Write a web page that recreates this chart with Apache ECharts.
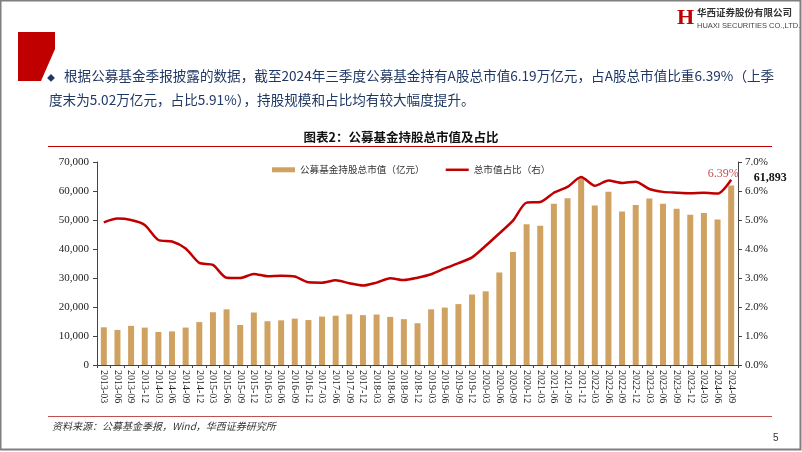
<!DOCTYPE html>
<html>
<head>
<meta charset="utf-8">
<script src="https://cdn.jsdelivr.net/npm/echarts@6/dist/echarts.min.js"></script>
<style>
html,body{margin:0;padding:0;background:#fff;}
#c{width:802px;height:452px;}
</style>
</head>
<body>
<div id="c"></div>
<script>
const categories = ['2013-03','2013-06','2013-09','2013-12','2014-03','2014-06','2014-09','2014-12','2015-03','2015-06','2015-09','2015-12','2016-03','2016-06','2016-09','2016-12','2017-03','2017-06','2017-09','2017-12','2018-03','2018-06','2018-09','2018-12','2019-03','2019-06','2019-09','2019-12','2020-03','2020-06','2020-09','2020-12','2021-03','2021-06','2021-09','2021-12','2022-03','2022-06','2022-09','2022-12','2023-03','2023-06','2023-09','2023-12','2024-03','2024-06','2024-09'];
const holdingValue = [13000,12100,13500,12900,11400,11600,12900,14800,18200,19200,13800,18100,15100,15400,16000,15500,16700,17000,17500,17200,17400,16600,15800,14400,19200,19800,21000,24300,25400,31900,39000,48500,48000,55600,57500,64500,55000,59700,52900,55200,57400,55600,53900,51800,52400,50200,61893];
const marketShare = [4.92,5.05,5.00,4.83,4.31,4.26,4.02,3.52,3.45,3.01,3.00,3.14,3.06,3.08,3.05,2.85,2.84,2.92,2.82,2.74,2.84,2.99,2.93,3.01,3.13,3.33,3.51,3.71,4.11,4.54,4.98,5.60,5.62,5.94,6.14,6.48,6.18,6.36,6.28,6.32,6.07,5.97,5.94,5.92,5.94,5.91,6.39];
const barName = '公募基金持股总市值（亿元）';
const lineName = '总市值占比（右）';

const serif = '"Liberation Serif","Times New Roman",serif';
const cjk = '"Noto Sans CJK SC","Noto Sans",sans-serif';
const last = holdingValue.length - 1;

const barData = holdingValue.map((v, i) => i === last ? {
  value: v,
  label: {show: true, position: 'top', offset: [39, 3], formatter: p => p.value.toLocaleString('en-US'),
          fontFamily: serif, fontWeight: 'bold', fontSize: 12, color: '#111'}
} : v);

const chart = echarts.init(document.getElementById('c'), null, {renderer: 'canvas'});
chart.setOption({
  animation: false,
  backgroundColor: '#fff',
  grid: {left: 97, right: 64, top: 162, bottom: 87},
  legend: {
    top: 160, left: 267, itemGap: 21, itemWidth: 23, itemHeight: 5,
    textStyle: {fontFamily: cjk, fontSize: 9.6, color: '#333'},
    data: [{name: barName, icon: 'rect'}, {name: lineName, icon: 'path://M0,0H92V10H0Z'}]
  },
  xAxis: {
    type: 'category', data: categories,
    axisLine: {lineStyle: {color: '#444', width: 1}},
    axisTick: {show: true, alignWithLabel: false, interval: 0, length: 3, lineStyle: {color: '#444'}},
    axisLabel: {interval: 0, rotate: -90, fontFamily: serif, fontSize: 10, color: '#222', margin: 5}
  },
  yAxis: [{
    type: 'value', min: 0, max: 70000, interval: 10000,
    splitLine: {show: false},
    axisLine: {show: true, lineStyle: {color: '#444'}},
    axisTick: {show: true, length: 4, lineStyle: {color: '#444'}},
    axisLabel: {fontFamily: serif, fontSize: 11, color: '#222', margin: 8,
                formatter: v => v.toLocaleString('en-US')}
  }, {
    type: 'value', min: 0, max: 7, interval: 1, position: 'right',
    splitLine: {show: false},
    axisLine: {show: true, lineStyle: {color: '#444'}},
    axisTick: {show: true, length: 4, lineStyle: {color: '#444'}},
    axisLabel: {fontFamily: serif, fontSize: 11, color: '#222', margin: 7,
                formatter: v => v.toFixed(1) + '%'}
  }],
  series: [{
    name: barName, type: 'bar', data: barData, barWidth: 6,
    itemStyle: {color: '#CFA262'}
  }, {
    name: lineName, type: 'line', yAxisIndex: 1, data: marketShare,
    smooth: 0.25, showSymbol: false, symbol: 'none',
    lineStyle: {color: '#C00000', width: 2.5, join: 'round'},
    itemStyle: {color: '#C00000'}, z: 5,
    markPoint: {
      symbol: 'circle', symbolSize: 0, silent: true,
      data: [{coord: [categories[last], marketShare[last]], value: marketShare[last]}],
      label: {show: true, position: 'top', offset: [-8, 5], formatter: p => p.value.toFixed(2) + '%',
              fontFamily: serif, fontSize: 12, color: '#C0504D'}
    }
  }],
  graphic: [
    {type: 'rect', shape: {x: 0.5, y: 0.5, width: 800, height: 449}, style: {fill: 'none', stroke: '#7f7f7f', lineWidth: 2}, silent: true},
    {type: 'polygon', shape: {points: [[18,32],[55,32],[55,49],[41,81],[18,81]]}, style: {fill: '#C00000'}},
    {type: 'text', left: 677, top: 7, style: {text: 'H', fontFamily: serif, fontWeight: 'bold', fontSize: 22, fill: '#C00000'}},
    {type: 'text', left: 697, top: 8, style: {text: '华西证券股份有限公司', fontFamily: cjk, fontWeight: 'bold', fontSize: 9.5, fill: '#333'}},
    {type: 'text', left: 697, top: 22, style: {text: 'HUAXI SECURITIES CO.,LTD.', fontFamily: '"Liberation Sans Narrow","Liberation Sans",sans-serif', fontSize: 7.5, fill: '#444'}},
    {type: 'text', left: 47, top: 74, style: {text: '◆', fontFamily: cjk, fontSize: 8, fill: '#1F3864'}},
    {type: 'text', left: 64, top: 69, style: {text: '根据公募基金季报披露的数据，截至2024年三季度公募基金持有A股总市值6.19万亿元，占A股总市值比重6.39%（上季', fontFamily: cjk, fontSize: 13.6, fill: '#1F3864'}},
    {type: 'text', left: 49, top: 93, style: {text: '度末为5.02万亿元，占比5.91%），持股规模和占比均有较大幅度提升。', fontFamily: cjk, fontSize: 13.6, fill: '#1F3864'}},
    {type: 'text', left: 'center', top: 131, style: {text: '图表2：公募基金持股总市值及占比', fontFamily: cjk, fontWeight: 'bold', fontSize: 12.5, fill: '#111'}},
    {type: 'line', shape: {x1: 48, y1: 146.5, x2: 772, y2: 146.5}, style: {stroke: '#C00000', lineWidth: 1}},
    {type: 'line', shape: {x1: 48, y1: 416.5, x2: 772, y2: 416.5}, style: {stroke: '#C0504D', lineWidth: 1}},
    {type: 'text', left: 52, top: 421, style: {text: '资料来源：公募基金季报，Wind，华西证券研究所', fontFamily: cjk, fontStyle: 'italic', fontSize: 10, fill: '#333'}},
    {type: 'text', left: 773, top: 433, style: {text: '5', fontFamily: '"Liberation Sans",sans-serif', fontSize: 10, fill: '#333'}}
  ]
});
</script>
</body>
</html>
